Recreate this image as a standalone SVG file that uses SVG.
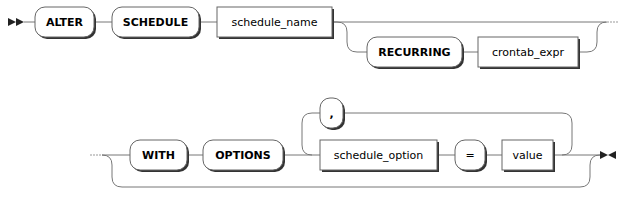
<svg xmlns="http://www.w3.org/2000/svg" width="638" height="200" viewBox="0 0 638 200">
<style>
.line{fill:none;stroke:#777;stroke-width:1}
.dots{fill:none;stroke:#999;stroke-width:1;stroke-dasharray:2 1}
.shadow{fill:#333;stroke:none}
.box{fill:#fff;stroke:#666;stroke-width:1}
.mark{fill:#222;stroke:none}
text{font-family:"DejaVu Sans",Verdana,sans-serif;font-size:11px;fill:#000;text-anchor:middle}
.kw{font-weight:bold}
</style>
<rect width="638" height="200" fill="#fff"/>
<g id="connectors">
<polygon class="mark" points="16 22 8 18 8 26"/>
<polygon class="mark" points="24 22 16 18 16 26"/>
<path class="line" d="M24,22 H35 M94,22 H112 M199,22 H217 M332,22 H606"/>
<path class="line" d="M332,22 h5 q10 0 10 10 v10 q0 10 10 10 h10 M462,52 H478 M578,52 h9 q10 0 10 -10 v-10 q0 -10 10 -10"/>
<path class="dots" d="M607,22 H618"/>
<path class="dots" d="M90,155 H102"/>
<path class="line" d="M102,155 H130 M187,155 H203 M283,155 H320 M437,155 H455 M485,155 H502 M553,155 H600"/>
<path class="line" d="M102,155 q10 0 10 10 v12 q0 10 10 10 h458 q10 0 10 -10 v-12 q0 -10 10 -10"/>
<path class="line" d="M320,113 h-8 q-10 0 -10 10 v22 q0 10 10 10 M343,113 H562 q10 0 10 10 v22 q0 10 -10 10"/>
<polygon class="mark" points="608 155 600 151 600 159"/>
<polygon class="mark" points="608 155 616 151 616 159"/>
</g>
<g id="alter"><rect class="shadow" x="37" y="9" width="59" height="30" rx="10"/><rect class="box" x="35" y="7" width="59" height="30" rx="10"/><text class="kw" x="64.5" y="26">ALTER</text></g>
<g id="schedule"><rect class="shadow" x="114" y="9" width="87" height="30" rx="10"/><rect class="box" x="112" y="7" width="87" height="30" rx="10"/><text class="kw" x="155.5" y="26">SCHEDULE</text></g>
<g id="schedule_name"><rect class="shadow" x="219" y="9" width="115" height="30"/><rect class="box" x="217" y="7" width="115" height="30"/><text x="274.5" y="26">schedule_name</text></g>
<g id="recurring"><rect class="shadow" x="369" y="39" width="95" height="30" rx="10"/><rect class="box" x="367" y="37" width="95" height="30" rx="10"/><text class="kw" x="414.5" y="56">RECURRING</text></g>
<g id="crontab_expr"><rect class="shadow" x="480" y="39" width="100" height="30"/><rect class="box" x="478" y="37" width="100" height="30"/><text x="528" y="56">crontab_expr</text></g>
<g id="with"><rect class="shadow" x="132" y="142" width="57" height="30" rx="10"/><rect class="box" x="130" y="140" width="57" height="30" rx="10"/><text class="kw" x="158.5" y="159">WITH</text></g>
<g id="options"><rect class="shadow" x="205" y="142" width="80" height="30" rx="10"/><rect class="box" x="203" y="140" width="80" height="30" rx="10"/><text class="kw" x="243" y="159">OPTIONS</text></g>
<g id="comma"><rect class="shadow" x="322" y="100" width="23" height="30" rx="10"/><rect class="box" x="320" y="98" width="23" height="30" rx="10"/><text class="kw" x="331.5" y="117">,</text></g>
<g id="schedule_option"><rect class="shadow" x="322" y="142" width="117" height="30"/><rect class="box" x="320" y="140" width="117" height="30"/><text x="378.5" y="159">schedule_option</text></g>
<g id="equals"><rect class="shadow" x="457" y="142" width="30" height="30" rx="10"/><rect class="box" x="455" y="140" width="30" height="30" rx="10"/><text x="470" y="159">=</text></g>
<g id="value"><rect class="shadow" x="504" y="142" width="51" height="30"/><rect class="box" x="502" y="140" width="51" height="30"/><text x="527.5" y="159">value</text></g>
</svg>
